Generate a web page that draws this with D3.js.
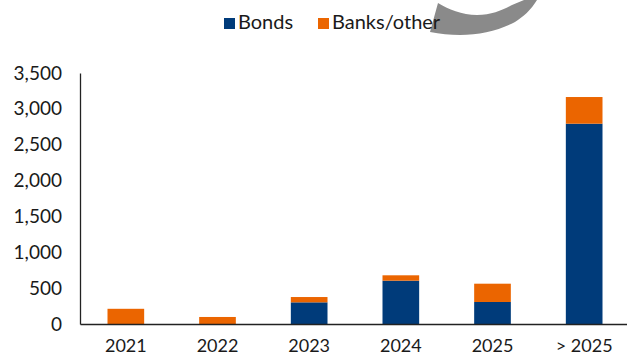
<!DOCTYPE html>
<html>
<head>
<meta charset="utf-8">
<script src="https://cdn.jsdelivr.net/npm/d3@7"></script>
<style>
  html, body { margin: 0; padding: 0; background: #fff; }
  svg { display: block; }
  text { font-family: Lato, "Open Sans", sans-serif; fill: #1a1a1a; }
</style>
</head>
<body>
<svg id="chart" width="627" height="356"></svg>
<script>
const categories = ["2021", "2022", "2023", "2024", "2025", "> 2025"];
const bonds = [0, 0, 302, 604, 307, 2793];
const banksOther = [212, 98, 74, 75, 255, 372];
const seriesNames = ["Bonds", "Banks/other"];
const seriesColors = ["#003B7A", "#EB6500"];
const yTicks = [0, 500, 1000, 1500, 2000, 2500, 3000, 3500];

const svg = d3.select("#chart");
const plotLeft = 80, plotRight = 630, plotTop = 73, plotBottom = 324;

const x = d3.scaleBand().domain(categories).range([plotLeft, plotRight]).paddingInner(0.6).paddingOuter(0.3);
const y = d3.scaleLinear().domain([0, 3500]).range([plotBottom, plotTop]);

// decorative grey arc
svg.append("path")
  .attr("d", "M438,3 C448,9 462,15 477,15 C492,15 503,10 512,5 L524,0 L537,0 C531,10 523,17 515,22 C500,30 480,35 460,35 C450,35 440,34 430,32 Z")
  .attr("fill", "#8a8a8a");

const table = categories.map((c, i) => ({ cat: c, Bonds: bonds[i], "Banks/other": banksOther[i] }));
const stack = d3.stack().keys(seriesNames)(table);

svg.append("g").selectAll("g").data(stack).join("g")
  .attr("fill", (d, i) => seriesColors[i])
  .selectAll("rect").data(d => d).join("rect")
  .attr("x", d => x(d.data.cat))
  .attr("width", x.bandwidth())
  .attr("y", d => y(d[1]))
  .attr("height", d => y(d[0]) - y(d[1]));

// y axis
const yAxis = svg.append("g").attr("transform", `translate(${plotLeft},0)`)
  .call(d3.axisLeft(y).tickValues(yTicks).tickSize(0).tickPadding(18).tickFormat(d3.format(",")));
yAxis.select(".domain").attr("stroke", "#222").attr("stroke-width", 1.3);
yAxis.selectAll("text").attr("font-size", 19).attr("fill", "#1a1a1a").style("font-family", "Lato, sans-serif");

// x axis
const xAxis = svg.append("g").attr("transform", `translate(0,${plotBottom})`)
  .call(d3.axisBottom(x).tickSize(0).tickPadding(15));
xAxis.select(".domain").attr("stroke", "#222").attr("stroke-width", 1.3);
xAxis.selectAll("text").attr("font-size", 18).attr("fill", "#1a1a1a").style("font-family", "Lato, sans-serif");

// legend
const legendX = [224, 318];
const lg = svg.append("g");
seriesNames.forEach((n, i) => {
  lg.append("rect").attr("x", legendX[i]).attr("y", 18).attr("width", 11).attr("height", 11).attr("fill", seriesColors[i]);
  lg.append("text").attr("x", legendX[i] + 14).attr("y", 29).attr("font-size", 20).text(n);
});
</script>
</body>
</html>
